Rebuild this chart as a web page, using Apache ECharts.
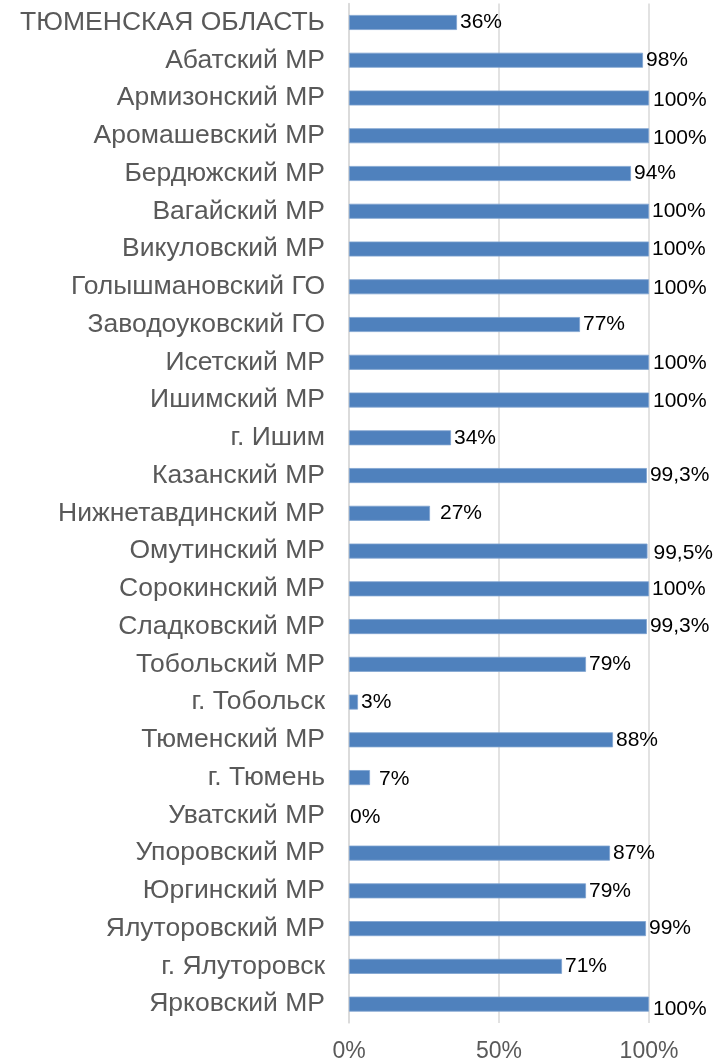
<!DOCTYPE html>
<html>
<head>
<meta charset="utf-8">
<script src="https://cdn.jsdelivr.net/npm/echarts@6/dist/echarts.min.js"></script>
<style>html,body{margin:0;padding:0;background:#fff}#c{width:726px;height:1063px}</style>
</head>
<body>
<div id="c"></div>
<script>
const categories = ["ТЮМЕНСКАЯ ОБЛАСТЬ","Абатский МР","Армизонский МР","Аромашевский МР","Бердюжский МР","Вагайский МР","Викуловский МР","Голышмановский ГО","Заводоуковский ГО","Исетский МР","Ишимский МР","г. Ишим","Казанский МР","Нижнетавдинский МР","Омутинский МР","Сорокинский МР","Сладковский МР","Тобольский МР","г. Тобольск","Тюменский МР","г. Тюмень","Уватский МР","Упоровский МР","Юргинский МР","Ялуторовский МР","г. Ялуторовск","Ярковский МР"];
const values = [36,98,100,100,94,100,100,100,77,100,100,34,99.3,27,99.5,100,99.3,79,3,88,7,0,87,79,99,71,100];
const xTicks = [0,50,100];

// label nudges (index -> [distance, dy])
const nudge = {13:[10,0],20:[9,2],21:[1,2],14:[6,2],26:[4,5],2:[4,2],3:[4,2],9:[4,1],10:[4,1],7:[4,1]};

const data = values.map((v,i)=>{
  const n = nudge[i] || [3,0];
  const d = {value:v,label:{distance:n[0],offset:[0,n[1]]}};
  if (v === 0) d.itemStyle = {borderWidth:0,color:'rgba(0,0,0,0)'};
  return d;
});

const chart = echarts.init(document.getElementById('c'),null,{renderer:'canvas'});
chart.setOption({
  animation:false,
  grid:{left:349,right:77,top:3.6,bottom:39.6,containLabel:false},
  xAxis:{type:'value',min:0,max:100,interval:50,
    axisLine:{show:false},axisTick:{show:false},
    splitLine:{show:true,lineStyle:{color:'#d9d9d9',width:1.5}},
    axisLabel:{formatter:v=>xTicks.includes(v)?v+'%':'',color:'#595959',fontSize:23,fontFamily:'Liberation Sans',margin:17}},
  yAxis:{type:'category',inverse:true,data:categories,
    axisLine:{show:true,lineStyle:{color:'#d9d9d9',width:1.5}},axisTick:{show:false},
    axisLabel:{color:'#595959',fontSize:26.5,fontFamily:'Liberation Sans',margin:24}},
  series:[{type:'bar',data:data,barWidth:15,
    itemStyle:{color:'#4f81bd',borderColor:'#7fa3d0',borderWidth:0.8},
    label:{show:true,position:'right',color:'#000',fontSize:21,fontFamily:'Liberation Sans',
      formatter:p=>String(p.value).replace('.',',')+'%'}}]
});
</script>
</body>
</html>
